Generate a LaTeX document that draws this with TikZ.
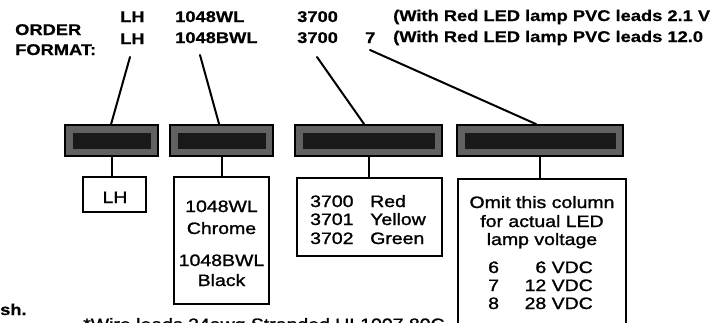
\documentclass[tikz,border=0pt]{standalone}
\usepackage{fontspec}
\setmainfont{Liberation Sans}
\newfontfamily\medfont{Liberation Sans}[FakeBold=1.2]
\newfontfamily\heavyfont{Liberation Sans Bold}[FakeBold=0.6]
\newcommand\wx[1]{\scalebox{1.18}[1]{#1}}
\tikzset{
  toptxt/.style={inner sep=0pt, font=\fontsize{15.5}{18}\selectfont\heavyfont},
  boxtxt/.style={inner sep=0pt, font=\fontsize{16.5}{19}\selectfont\medfont},
  hdr/.style={draw=black, line width=1.8pt, fill=black!62, inner sep=0pt},
  hdrin/.style={fill=black!90, draw=none, inner sep=0pt},
  obox/.style={draw=black, line width=2pt, fill=white, inner sep=0pt},
  conn/.style={line width=2pt, line cap=round}
}
\begin{document}
\begin{tikzpicture}[x=1pt,y=-1pt]
\useasboundingbox (0,0) rectangle (717,322);
\clip (0,0) rectangle (717,322);
\fill[white] (0,0) rectangle (717,322);
% top text
\node[toptxt, anchor=base west] (order) at (15,35) {\wx{ORDER}};
\node[toptxt, anchor=base west] (format) at (15,55) {\wx{FORMAT:}};
\node[toptxt, anchor=base west] (lh1) at (120,22) {\wx{LH}};
\node[toptxt, anchor=base west] (lh2) at (120,44) {\wx{LH}};
\node[toptxt, anchor=base west] (wl1) at (175,22) {\wx{1048WL}};
\node[toptxt, anchor=base west] (wl2) at (175,43) {\wx{1048BWL}};
\node[toptxt, anchor=base west] (c1) at (297,22) {\wx{3700}};
\node[toptxt, anchor=base west] (c2) at (297,43) {\wx{3700}};
\node[toptxt, anchor=base west] (v2) at (365,43) {\wx{7}};
\node[toptxt, anchor=base west] (w1) at (393,21) {\wx{(With Red LED lamp PVC leads 2.1 V}};
\node[toptxt, anchor=base west] (w2) at (393,42) {\wx{(With Red LED lamp PVC leads 12.0}};
% header boxes
\node[hdr, minimum width=93pt, minimum height=31pt] (h1) at (111.5,140.5) {};
\node[hdr, minimum width=103pt, minimum height=31pt] (h2) at (221.5,140.5) {};
\node[hdr, minimum width=147pt, minimum height=31pt] (h3) at (368.5,140.5) {};
\node[hdr, minimum width=166pt, minimum height=31pt] (h4) at (540,140.5) {};
\node[hdrin, minimum width=78pt, minimum height=16pt] (h1i) at (h1) {};
\node[hdrin, minimum width=88pt, minimum height=16pt] (h2i) at (h2) {};
\node[hdrin, minimum width=132pt, minimum height=16pt] (h3i) at (h3) {};
\node[hdrin, minimum width=151pt, minimum height=16pt] (h4i) at (h4) {};
% option boxes
\node[obox, minimum width=63pt, minimum height=35pt] (b1) at (114.5,194.5) {};
\node[obox, minimum width=95pt, minimum height=127pt] (b2) at (221.5,240.5) {};
\node[obox, minimum width=145pt, minimum height=78pt] (b3) at (369.5,217) {};
\node[obox, minimum width=168pt, minimum height=170pt] (b4) at (542,264) {};
% diagonal connectors
\coordinate (s1) at (130,57);
\coordinate (s2) at (200,55);
\coordinate (s3) at (317,57);
\coordinate (s4) at (370,50);
\draw[conn] (s1) -- ([xshift=47pt]h1.north west);
\draw[conn] (s2) -- ([xshift=50pt]h2.north west);
\draw[conn] (s3) -- ([xshift=70pt]h3.north west);
\draw[conn] (s4) -- ([xshift=80pt]h4.north west);
% vertical connectors
\draw[conn] (h1.south) -- (h1.south |- b1.north);
\draw[conn] (h2.south) -- (h2.south |- b2.north);
\draw[conn] (h3.south) -- (h3.south |- b3.north);
\draw[conn] (h4.south) -- (h4.south |- b4.north);
% box texts
\node[boxtxt, anchor=base] (t1) at (115,203) {\wx{LH}};
\node[boxtxt, anchor=base] (t2a) at (221.5,212) {\wx{1048WL}};
\node[boxtxt, anchor=base] (t2b) at (221.5,234) {\wx{Chrome}};
\node[boxtxt, anchor=base] (t2c) at (221.5,266) {\wx{1048BWL}};
\node[boxtxt, anchor=base] (t2d) at (221.5,286) {\wx{Black}};
\node[boxtxt, anchor=base west] (t3a) at (310,207) {\wx{3700}};
\node[boxtxt, anchor=base west] (t3b) at (310,225) {\wx{3701}};
\node[boxtxt, anchor=base west] (t3c) at (310,244) {\wx{3702}};
\node[boxtxt, anchor=base west] (t3d) at (370,207) {\wx{Red}};
\node[boxtxt, anchor=base west] (t3e) at (370,225) {\wx{Yellow}};
\node[boxtxt, anchor=base west] (t3f) at (370,244) {\wx{Green}};
\node[boxtxt, anchor=base] (t4a) at (542,208) {\wx{Omit this column}};
\node[boxtxt, anchor=base] (t4b) at (542,227) {\wx{for actual LED}};
\node[boxtxt, anchor=base] (t4c) at (542,245) {\wx{lamp voltage}};
\node[boxtxt, anchor=base west] (t4d) at (488,273) {\wx{6}};
\node[boxtxt, anchor=base west] (t4e) at (488,291) {\wx{7}};
\node[boxtxt, anchor=base west] (t4f) at (488,309) {\wx{8}};
\node[boxtxt, anchor=base east] (t4g) at (593,273) {\wx{6 VDC}};
\node[boxtxt, anchor=base east] (t4h) at (593,291) {\wx{12 VDC}};
\node[boxtxt, anchor=base east] (t4i) at (593,309) {\wx{28 VDC}};
% bottom
\node[toptxt, anchor=base west] (sh) at (0,315) {\wx{sh.}};
\node[boxtxt, anchor=base west] (wire) at (83,330) {\wx{*Wire leads 24awg Stranded UL1007 80C}};
\end{tikzpicture}
\end{document}
